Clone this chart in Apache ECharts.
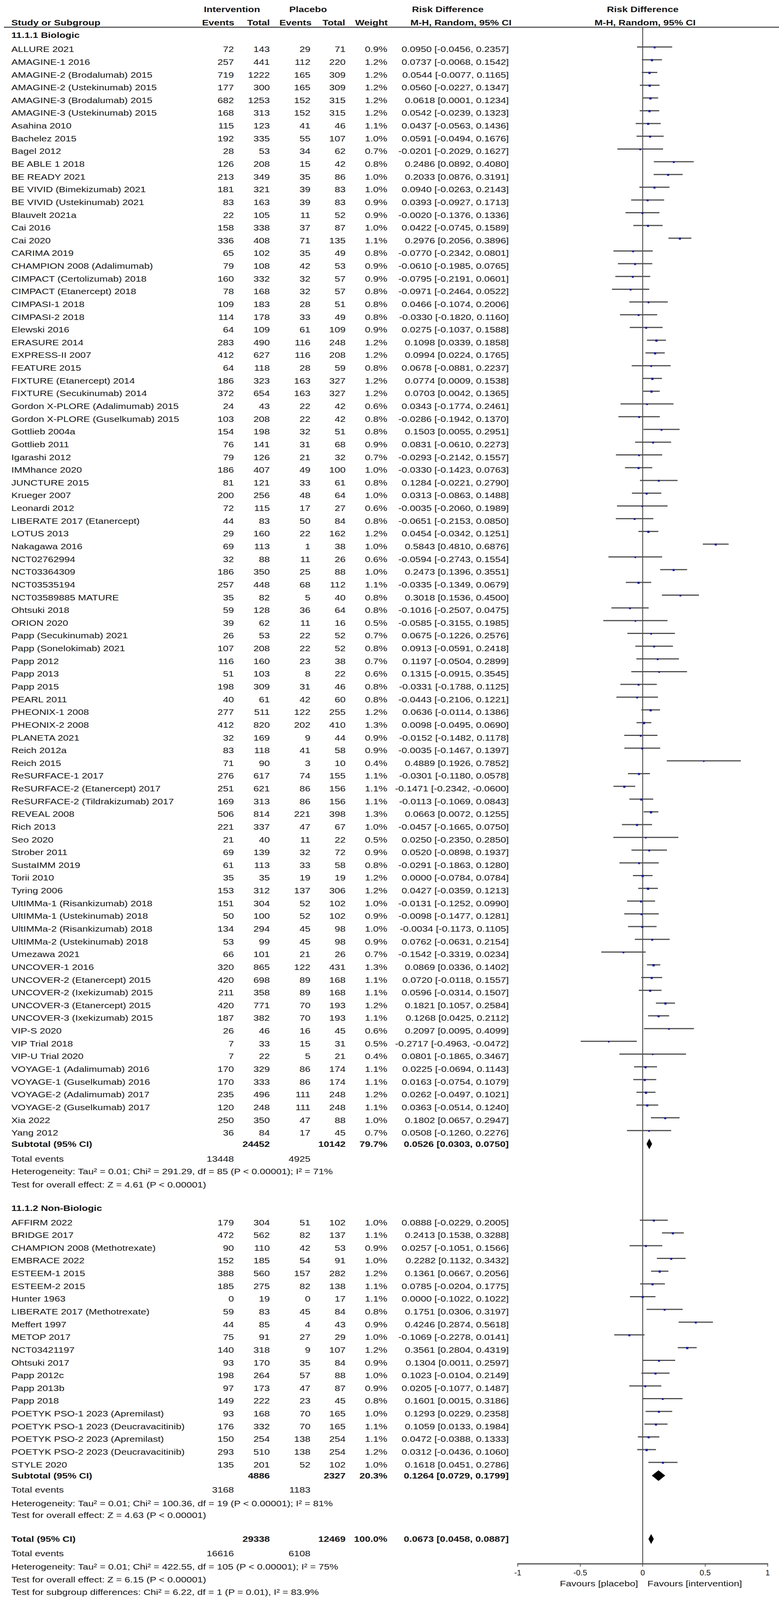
<!DOCTYPE html>
<html><head><meta charset="utf-8">
<script src="https://cdn.jsdelivr.net/npm/echarts@6/dist/echarts.min.js"></script>
<style>html,body{margin:0;padding:0;background:#fff;overflow:hidden}#c{width:1995px}</style>
</head><body><div id="c"></div>
<script>
// ---------------- DATA ----------------
const bioStudies = ["ALLURE 2021","AMAGINE-1 2016","AMAGINE-2 (Brodalumab) 2015","AMAGINE-2 (Ustekinumab) 2015","AMAGINE-3 (Brodalumab) 2015","AMAGINE-3 (Ustekinumab) 2015","Asahina 2010","Bachelez 2015","Bagel 2012","BE ABLE 1 2018","BE READY 2021","BE VIVID (Bimekizumab) 2021","BE VIVID (Ustekinumab) 2021","Blauvelt 2021a","Cai 2016","Cai 2020","CARIMA 2019","CHAMPION 2008 (Adalimumab)","CIMPACT (Certolizumab) 2018","CIMPACT (Etanercept) 2018","CIMPASI-1 2018","CIMPASI-2 2018","Elewski 2016","ERASURE 2014","EXPRESS-II 2007","FEATURE 2015","FIXTURE (Etanercept) 2014","FIXTURE (Secukinumab) 2014","Gordon X-PLORE (Adalimumab) 2015","Gordon X-PLORE (Guselkumab) 2015","Gottlieb 2004a","Gottlieb 2011","Igarashi 2012","IMMhance 2020","JUNCTURE 2015","Krueger 2007","Leonardi 2012","LIBERATE 2017 (Etanercept)","LOTUS 2013","Nakagawa 2016","NCT02762994","NCT03364309","NCT03535194","NCT03589885 MATURE","Ohtsuki 2018","ORION 2020","Papp (Secukinumab) 2021","Papp (Sonelokimab) 2021","Papp 2012","Papp 2013","Papp 2015","PEARL 2011","PHEONIX-1 2008","PHEONIX-2 2008","PLANETA 2021","Reich 2012a","Reich 2015","ReSURFACE-1 2017","ReSURFACE-2 (Etanercept) 2017","ReSURFACE-2 (Tildrakizumab) 2017","REVEAL 2008","Rich 2013","Seo 2020","Strober 2011","SustaIMM 2019","Torii 2010","Tyring 2006","UltIMMa-1 (Risankizumab) 2018","UltIMMa-1 (Ustekinumab) 2018","UltIMMa-2 (Risankizumab) 2018","UltIMMa-2 (Ustekinumab) 2018","Umezawa 2021","UNCOVER-1 2016","UNCOVER-2 (Etanercept) 2015","UNCOVER-2 (Ixekizumab) 2015","UNCOVER-3 (Etanercept) 2015","UNCOVER-3 (Ixekizumab) 2015","VIP-S 2020","VIP Trial 2018","VIP-U Trial 2020","VOYAGE-1 (Adalimumab) 2016","VOYAGE-1 (Guselkumab) 2016","VOYAGE-2 (Adalimumab) 2017","VOYAGE-2 (Guselkumab) 2017","Xia 2022","Yang 2012"];
const bioIntEvents = [72,257,719,177,682,168,115,192,28,126,213,181,83,22,158,336,65,79,160,78,109,114,64,283,412,64,186,372,24,103,154,76,79,186,81,200,72,44,29,69,32,186,257,35,59,39,26,107,116,51,198,40,277,412,32,83,71,276,251,169,506,221,21,69,61,35,153,151,50,134,53,66,320,420,211,420,187,26,7,7,170,170,235,120,250,36];
const bioIntTotal = [143,441,1222,300,1253,313,123,335,53,208,349,321,163,105,338,408,102,108,332,168,183,178,109,490,627,118,323,654,43,208,198,141,126,407,121,256,115,83,160,113,88,350,448,82,128,62,53,208,160,103,309,61,511,820,169,118,90,617,621,313,814,337,40,139,113,35,312,304,100,294,99,101,865,698,358,771,382,46,33,22,329,333,496,248,350,84];
const bioPlcEvents = [29,112,165,165,152,152,41,55,34,15,35,39,39,11,37,71,35,42,32,32,28,33,61,116,116,28,163,163,22,22,32,31,21,49,33,48,17,50,22,1,11,25,68,5,36,11,22,22,23,8,31,42,122,202,9,41,3,74,86,86,221,47,11,32,33,19,137,52,52,45,45,21,122,89,89,70,70,16,15,5,86,86,111,111,47,17];
const bioPlcTotal = [71,220,309,309,315,315,46,107,62,42,86,83,83,52,87,135,49,53,57,57,51,49,109,248,208,59,327,327,42,42,51,68,32,100,61,64,27,84,162,38,26,88,112,40,64,16,52,52,38,22,46,60,255,410,44,58,10,155,156,156,398,67,22,72,58,19,306,102,102,98,98,26,431,168,168,193,193,45,31,21,174,174,248,248,88,45];
const bioWeight = [0.9,1.2,1.2,1.2,1.2,1.2,1.1,1.0,0.7,0.8,1.0,1.0,0.9,0.9,1.0,1.1,0.8,0.9,0.9,0.8,0.8,0.8,0.9,1.2,1.2,0.8,1.2,1.2,0.6,0.8,0.8,0.9,0.7,1.0,0.8,1.0,0.6,0.8,1.2,1.0,0.6,1.0,1.1,0.8,0.8,0.5,0.7,0.8,0.7,0.6,0.8,0.8,1.2,1.3,0.9,0.9,0.4,1.1,1.1,1.1,1.3,1.0,0.5,0.9,0.8,1.2,1.2,1.0,0.9,1.0,0.9,0.7,1.3,1.1,1.1,1.2,1.1,0.6,0.5,0.4,1.1,1.1,1.2,1.1,1.0,0.7];
const bioRD = [0.0950,0.0737,0.0544,0.0560,0.0618,0.0542,0.0437,0.0591,-0.0201,0.2486,0.2033,0.0940,0.0393,-0.0020,0.0422,0.2976,-0.0770,-0.0610,-0.0795,-0.0971,0.0466,-0.0330,0.0275,0.1098,0.0994,0.0678,0.0774,0.0703,0.0343,-0.0286,0.1503,0.0831,-0.0293,-0.0330,0.1284,0.0313,-0.0035,-0.0651,0.0454,0.5843,-0.0594,0.2473,-0.0335,0.3018,-0.1016,-0.0585,0.0675,0.0913,0.1197,0.1315,-0.0331,-0.0443,0.0636,0.0098,-0.0152,-0.0035,0.4889,-0.0301,-0.1471,-0.0113,0.0663,-0.0457,0.0250,0.0520,-0.0291,0.0000,0.0427,-0.0131,-0.0098,-0.0034,0.0762,-0.1542,0.0869,0.0720,0.0596,0.1821,0.1268,0.2097,-0.2717,0.0801,0.0225,0.0163,0.0262,0.0363,0.1802,0.0508];
const bioLow = [-0.0456,-0.0068,-0.0077,-0.0227,0.0001,-0.0239,-0.0563,-0.0494,-0.2029,0.0892,0.0876,-0.0263,-0.0927,-0.1376,-0.0745,0.2056,-0.2342,-0.1985,-0.2191,-0.2464,-0.1074,-0.1820,-0.1037,0.0339,0.0224,-0.0881,0.0009,0.0042,-0.1774,-0.1942,0.0055,-0.0610,-0.2142,-0.1423,-0.0221,-0.0863,-0.2060,-0.2153,-0.0342,0.4810,-0.2743,0.1396,-0.1349,0.1536,-0.2507,-0.3155,-0.1226,-0.0591,-0.0504,-0.0915,-0.1788,-0.2106,-0.0114,-0.0495,-0.1482,-0.1467,0.1926,-0.1180,-0.2342,-0.1069,0.0072,-0.1665,-0.2350,-0.0898,-0.1863,-0.0784,-0.0359,-0.1252,-0.1477,-0.1173,-0.0631,-0.3319,0.0336,-0.0118,-0.0314,0.1057,0.0425,0.0095,-0.4963,-0.1865,-0.0694,-0.0754,-0.0497,-0.0514,0.0657,-0.1260];
const bioHigh = [0.2357,0.1542,0.1165,0.1347,0.1234,0.1323,0.1436,0.1676,0.1627,0.4080,0.3191,0.2143,0.1713,0.1336,0.1589,0.3896,0.0801,0.0765,0.0601,0.0522,0.2006,0.1160,0.1588,0.1858,0.1765,0.2237,0.1538,0.1365,0.2461,0.1370,0.2951,0.2273,0.1557,0.0763,0.2790,0.1488,0.1989,0.0850,0.1251,0.6876,0.1554,0.3551,0.0679,0.4500,0.0475,0.1985,0.2576,0.2418,0.2899,0.3545,0.1125,0.1221,0.1386,0.0690,0.1178,0.1397,0.7852,0.0578,-0.0600,0.0843,0.1255,0.0750,0.2850,0.1937,0.1280,0.0784,0.1213,0.0990,0.1281,0.1105,0.2154,0.0234,0.1402,0.1557,0.1507,0.2584,0.2112,0.4099,-0.0472,0.3467,0.1143,0.1079,0.1021,0.1240,0.2947,0.2276];

const nonStudies = ["AFFIRM 2022","BRIDGE 2017","CHAMPION 2008 (Methotrexate)","EMBRACE 2022","ESTEEM-1 2015","ESTEEM-2 2015","Hunter 1963","LIBERATE 2017 (Methotrexate)","Meffert 1997","METOP 2017","NCT03421197","Ohtsuki 2017","Papp 2012c","Papp 2013b","Papp 2018","POETYK PSO-1 2023 (Apremilast)","POETYK PSO-1 2023 (Deucravacitinib)","POETYK PSO-2 2023 (Apremilast)","POETYK PSO-2 2023 (Deucravacitinib)","STYLE 2020"];
const nonIntEvents = [179,472,90,152,388,185,0,59,44,75,140,93,198,97,149,93,176,150,293,135];
const nonIntTotal = [304,562,110,185,560,275,19,83,85,91,318,170,264,173,222,168,332,254,510,201];
const nonPlcEvents = [51,82,42,54,157,82,0,45,4,27,9,35,57,47,23,70,70,138,138,52];
const nonPlcTotal = [102,137,53,91,282,138,17,84,43,29,107,84,88,87,45,165,165,254,254,102];
const nonWeight = [1.0,1.1,0.9,1.0,1.2,1.1,1.1,0.8,0.9,1.0,1.2,0.9,1.0,0.9,0.8,1.0,1.1,1.1,1.2,1.0];
const nonRD = [0.0888,0.2413,0.0257,0.2282,0.1361,0.0785,0.0000,0.1751,0.4246,-0.1069,0.3561,0.1304,0.1023,0.0205,0.1601,0.1293,0.1059,0.0472,0.0312,0.1618];
const nonLow = [-0.0229,0.1538,-0.1051,0.1132,0.0667,-0.0204,-0.1022,0.0306,0.2874,-0.2278,0.2804,0.0011,-0.0104,-0.1077,0.0015,0.0229,0.0133,-0.0388,-0.0436,0.0451];
const nonHigh = [0.2005,0.3288,0.1566,0.3432,0.2056,0.1775,0.1022,0.3197,0.5618,0.0141,0.4319,0.2597,0.2149,0.1487,0.3186,0.2358,0.1984,0.1333,0.1060,0.2786];

// pooled estimates [RD, low, high]
const bioPooled = [0.0526, 0.0303, 0.0750];
const nonPooled = [0.1264, 0.0729, 0.1799];
const allPooled = [0.0673, 0.0458, 0.0887];
// totals [intervention, placebo]
const bioTotals = [24452, 10142];
const nonTotals = [4886, 2327];
const allTotals = [29338, 12469];
const bioEvents = [13448, 4925];
const nonEvents = [3168, 1183];
const allEvents = [16616, 6108];
const groupWeights = [79.7, 20.3, 100.0];
const bioHet = "Heterogeneity: Tau\u00b2 = 0.01; Chi\u00b2 = 291.29, df = 85 (P < 0.00001); I\u00b2 = 71%";
const bioTest = "Test for overall effect: Z = 4.61 (P < 0.00001)";
const nonHet = "Heterogeneity: Tau\u00b2 = 0.01; Chi\u00b2 = 100.36, df = 19 (P < 0.00001); I\u00b2 = 81%";
const nonTest = "Test for overall effect: Z = 4.63 (P < 0.00001)";
const allHet = "Heterogeneity: Tau\u00b2 = 0.01; Chi\u00b2 = 422.55, df = 105 (P < 0.00001); I\u00b2 = 75%";
const allTest = "Test for overall effect: Z = 6.15 (P < 0.00001)";
const subgroupTest = "Test for subgroup differences: Chi\u00b2 = 6.22, df = 1 (P = 0.01), I\u00b2 = 83.9%";
const xTicks = [-1, -0.5, 0, 0.5, 1];

// ---------------- LAYOUT (reference px, scaled to viewport height) ----------------
const REF_H = 4221;
const H = window.innerHeight || REF_H;
const K = H / REF_H;
document.getElementById('c').style.height = H + 'px';
const ROW_Y0 = 130, ROW_H = 33.63;
const GRID_TOP = 73, AXIS_Y = 4125;
const Y_MIN = (GRID_TOP - ROW_Y0) / ROW_H, Y_MAX = (AXIS_Y - ROW_Y0) / ROW_H;
const FF = '"Liberation Sans", Arial, Helvetica, sans-serif';
const FS = 21 * K;
const FONT = FS.toFixed(2) + 'px ' + FF, BOLD = 'bold ' + FS.toFixed(2) + 'px ' + FF;
const SX = 1.2 / K, TXT = '#161616';
const COL = {name: 29, ie: 599, it: 691, pe: 795, pt: 885, w: 992, ci: 1303};
const MARK_DY = -6 * K;

const f4 = v => v.toFixed(4);
const ciTxt = (rd, lo, hi) => f4(rd) + ' [' + f4(lo) + ', ' + f4(hi) + ']';
const pct = v => v.toFixed(1) + '%';
const C = (t, x, a, b) => ({t: String(t), x: x, a: a || 'right', b: !!b});

const rows = [];
const ciData = [];
const diamonds = [];
function addStudies(names, ie, it, pe, pt, w, rd, lo, hi, s0) {
  names.forEach((n, i) => {
    const s = s0 + i;
    rows.push({slot: s, cells: [C(n, COL.name, 'left'), C(ie[i], COL.ie), C(it[i], COL.it), C(pe[i], COL.pe), C(pt[i], COL.pt), C(pct(w[i]), COL.w), C(ciTxt(rd[i], lo[i], hi[i]), COL.ci)]});
    ciData.push([lo[i], hi[i], rd[i], s, w[i]]);
  });
}
function addSummary(s, label, totals, wt, pooled, half) {
  rows.push({slot: s, cells: [C(label, COL.name, 'left', true), C(totals[0], COL.it, 'right', true), C(totals[1], COL.pt, 'right', true), C(pct(wt), COL.w, 'right', true), C(ciTxt(pooled[0], pooled[1], pooled[2]), COL.ci, 'right', true)]});
  diamonds.push([pooled[1], pooled[2], pooled[0], s, half * K]);
}
function addEvents(s, ev) {
  rows.push({slot: s, cells: [C('Total events', COL.name, 'left'), C(ev[0], COL.ie), C(ev[1], COL.pe)]});
}
function addLine(s, t, b) { rows.push({slot: s, cells: [C(t, COL.name, 'left', b)]}); }

// header
rows.push({slot: -3.12, cells: [C('Intervention', 594, 'center', true), C('Placebo', 789, 'center', true), C('Risk Difference', 1055, 'left', true), {t: 'Risk Difference', xv: 0, dx: 0, a: 'center', b: true}]});
rows.push({slot: -2.08, cells: [C('Study or Subgroup', COL.name, 'left', true), C('Events', 600, 'right', true), C('Total', 691, 'right', true), C('Events', 798, 'right', true), C('Total', 884, 'right', true), C('Weight', 993, 'right', true), C('M-H, Random, 95% CI', 1051, 'left', true), {t: 'M-H, Random, 95% CI', xv: 0, dx: 6, a: 'center', b: true}]});

addLine(-1.1, '11.1.1 Biologic', true);
addStudies(bioStudies, bioIntEvents, bioIntTotal, bioPlcEvents, bioPlcTotal, bioWeight, bioRD, bioLow, bioHigh, 0);
addSummary(85.87, 'Subtotal (95% CI)', bioTotals, groupWeights[0], bioPooled, 14);
addEvents(87.04, bioEvents);
addLine(88.02, bioHet);
addLine(89.06, bioTest);
addLine(90.9, '11.1.2 Non-Biologic', true);
addStudies(nonStudies, nonIntEvents, nonIntTotal, nonPlcEvents, nonPlcTotal, nonWeight, nonRD, nonLow, nonHigh, 92.03);
addSummary(111.89, 'Subtotal (95% CI)', nonTotals, groupWeights[1], nonPooled, 14);
addEvents(113.0, nonEvents);
addLine(114.06, nonHet);
addLine(115.0, nonTest);
addSummary(116.86, 'Total (95% CI)', allTotals, groupWeights[2], allPooled, 13);
addEvents(118.0, allEvents);
addLine(119.03, allHet);
addLine(120.04, allTest);
addLine(121.02, subgroupTest);
rows.push({slot: 120.37, cells: [{t: 'Favours [placebo]', xv: 0, dx: -12, a: 'right', b: false}, {t: 'Favours [intervention]', xv: 0, dx: 12, a: 'left', b: false}]});

// ---------------- CHART ----------------
const chart = echarts.init(document.getElementById('c'), null, {renderer: 'svg', width: 1995, height: H});
chart.setOption({
  animation: false,
  backgroundColor: '#fff',
  grid: {left: 1326, right: 29, top: GRID_TOP * K, bottom: H - AXIS_Y * K},
  xAxis: {type: 'value', min: xTicks[0], max: xTicks[xTicks.length - 1], interval: 0.5,
    axisLine: {show: true, onZero: false, lineStyle: {color: '#555', width: 3}},
    axisTick: {show: true, length: 8 * K, lineStyle: {color: '#555', width: 2}},
    axisLabel: {fontSize: FS, color: TXT, margin: 14 * K, fontFamily: FF},
    splitLine: {show: false}},
  yAxis: {type: 'value', inverse: true, min: Y_MIN, max: Y_MAX, show: false},
  graphic: [{type: 'line', shape: {x1: 10, y1: 72 * K, x2: 1995, y2: 72 * K}, style: {stroke: '#5a5a5a', lineWidth: 3}}],
  series: [
    {type: 'line', name: 'zero', data: [[0, Y_MIN], [0, Y_MAX]], symbol: 'none', silent: true,
     lineStyle: {color: '#3a3a3a', width: 2}, z: 1},
    {type: 'custom', name: 'studies', data: ciData, encode: {x: [0, 1, 2], y: 3}, silent: true, z: 3,
     renderItem: (p, api) => {
       const lo = api.value(0), hi = api.value(1), rd = api.value(2), s = api.value(3), w = api.value(4);
       const a = api.coord([lo, s]), b = api.coord([hi, s]), m = api.coord([rd, s]);
       const yy = a[1] + MARK_DY, sz = 2.6 + 2.6 * w;
       return {type: 'group', children: [
         {type: 'line', shape: {x1: a[0], y1: yy, x2: b[0], y2: yy}, style: {stroke: '#505050', lineWidth: 3}},
         {type: 'rect', shape: {x: m[0] - sz / 2, y: yy - sz / 2 + 1, width: sz, height: sz}, style: {fill: '#1d1d9e'}}
       ]};
     }},
    {type: 'custom', name: 'pooled', data: diamonds, encode: {x: [0, 1, 2], y: 3}, silent: true, z: 4,
     renderItem: (p, api) => {
       const lo = api.value(0), hi = api.value(1), rd = api.value(2), s = api.value(3), h = api.value(4);
       const a = api.coord([lo, s]), b = api.coord([hi, s]), m = api.coord([rd, s]);
       return {type: 'polygon', shape: {points: [[a[0], a[1]], [m[0], m[1] - h], [b[0], b[1]], [m[0], m[1] + h]]}, style: {fill: '#000'}};
     }},
    {type: 'custom', name: 'table', data: rows.map(r => [0, r.slot]), encode: {x: 0, y: 1}, silent: true, clip: false, z: 5,
     renderItem: (p, api) => {
       const r = rows[p.dataIndex];
       const y = api.coord([0, r.slot])[1];
       return {type: 'group', children: r.cells.map(c => ({
         type: 'text',
         x: (c.xv !== undefined) ? api.coord([c.xv, r.slot])[0] + (c.dx || 0) : c.x,
         y: y, scaleX: SX,
         style: {text: c.t, textAlign: c.a, align: c.a, textVerticalAlign: 'middle', verticalAlign: 'middle', font: c.b ? BOLD : FONT, fill: TXT}
       }))};
     }}
  ]
});
</script>
</body></html>
